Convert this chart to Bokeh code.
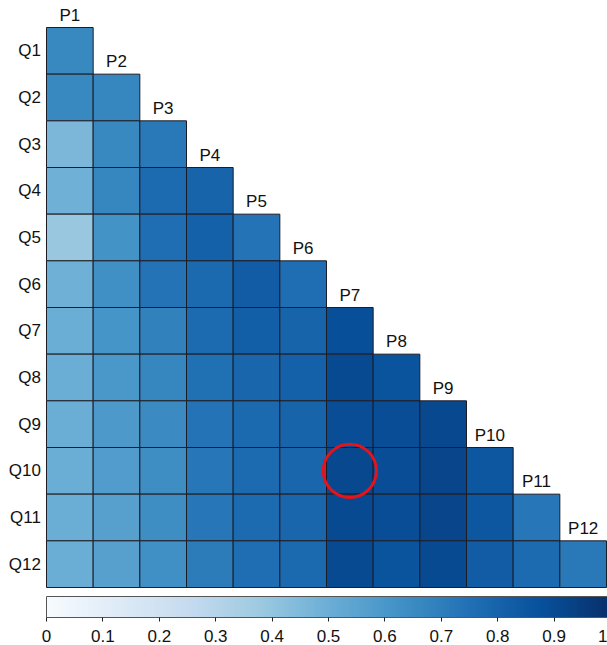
from bokeh.plotting import figure
from bokeh.models import (ColumnDataSource, LinearColorMapper, ColorBar, Range1d,
                          FixedTicker, CustomJSTickFormatter)
from bokeh.palettes import Blues256
from bokeh.transform import transform
from bokeh.core.properties import value
from bokeh.embed import file_html
from bokeh.resources import INLINE

# Row and column labels
q_labels = ["Q1", "Q2", "Q3", "Q4", "Q5", "Q6", "Q7", "Q8", "Q9", "Q10", "Q11", "Q12"]
p_labels = ["P1", "P2", "P3", "P4", "P5", "P6", "P7", "P8", "P9", "P10", "P11", "P12"]

# Lower-triangular values, one list per Q row (columns P1..Pi)
q1 = [0.66]
q2 = [0.66, 0.67]
q3 = [0.46, 0.66, 0.72]
q4 = [0.49, 0.67, 0.77, 0.80]
q5 = [0.39, 0.62, 0.76, 0.81, 0.74]
q6 = [0.49, 0.63, 0.74, 0.78, 0.83, 0.76]
q7 = [0.50, 0.61, 0.69, 0.77, 0.82, 0.80, 0.88]
q8 = [0.50, 0.60, 0.67, 0.75, 0.79, 0.81, 0.90, 0.86]
q9 = [0.50, 0.59, 0.65, 0.74, 0.78, 0.80, 0.89, 0.89, 0.91]
q10 = [0.50, 0.58, 0.64, 0.73, 0.77, 0.79, 0.91, 0.89, 0.92, 0.85]
q11 = [0.50, 0.56, 0.64, 0.73, 0.77, 0.79, 0.90, 0.89, 0.92, 0.85, 0.73]
q12 = [0.50, 0.56, 0.63, 0.71, 0.76, 0.78, 0.90, 0.86, 0.90, 0.83, 0.77, 0.72]
rows = [q1, q2, q3, q4, q5, q6, q7, q8, q9, q10, q11, q12]

# Highlighted cell
mark_row = "Q10"
mark_col = "P7"

colorbar_ticks = [0, 0.1, 0.2, 0.3, 0.4, 0.5, 0.6, 0.7, 0.8, 0.9, 1]

n = len(q_labels)
cell = 560 / n          # pixel size of one cell
left_px, bottom_px = 46, 58
W, H = 607, 645

xs, ys, vals = [], [], []
for i, row in enumerate(rows):
    for j, v in enumerate(row):
        xs.append(j + 0.5)
        ys.append(n - i - 0.5)
        vals.append(v)
src = ColumnDataSource(dict(x=xs, y=ys, val=vals))

mapper = LinearColorMapper(palette=list(reversed(Blues256)), low=0, high=1)

p = figure(width=W, height=H, output_backend="svg", toolbar_location=None,
           x_range=Range1d(-left_px / cell, (W - left_px) / cell),
           y_range=Range1d(-bottom_px / cell, (H - bottom_px) / cell),
           min_border=0, x_axis_location=None, y_axis_location=None)
p.grid.visible = False
p.outline_line_color = None
p.background_fill_color = "white"
p.border_fill_color = "white"

p.rect(x="x", y="y", width=1, height=1, source=src,
       fill_color=transform("val", mapper), line_color="#1c1c24", line_width=1)

font = value("Liberation Sans")

# Row labels on the left
p.text(x=[-0.12] * n, y=[n - i - 0.5 for i in range(n)], text=q_labels,
       text_align="right", text_baseline="middle", text_font=font,
       text_font_size="17px", text_color="#111111")

# Column labels above the diagonal
p.text(x=[j + 0.5 for j in range(n)], y=[n - j for j in range(n)], text=p_labels,
       text_align="center", text_baseline="bottom", y_offset=-3, text_font=font,
       text_font_size="17px", text_color="#111111")

# Red ring around the highlighted cell
ci = q_labels.index(mark_row)
cj = p_labels.index(mark_col)
p.circle(x=[cj + 0.5], y=[n - ci - 0.5], radius=0.57, fill_color=None,
         line_color="#e3141b", line_width=3)

cb = ColorBar(color_mapper=mapper, orientation="horizontal", width=564, height=21,
              location=(left_px, 1), padding=0,
              ticker=FixedTicker(ticks=colorbar_ticks),
              formatter=CustomJSTickFormatter(code="return String(Math.round(tick*10)/10)"),
              major_tick_in=0, major_tick_out=4, major_tick_line_color="#222222",
              bar_line_color="#555555", bar_line_width=1,
              major_label_text_font="Liberation Sans", major_label_text_font_size="17px",
              major_label_text_color="#111111", label_standoff=8,
              background_fill_alpha=0, border_line_color=None)
p.add_layout(cb, "center")

open("out.html", "w").write(file_html(p, INLINE))
